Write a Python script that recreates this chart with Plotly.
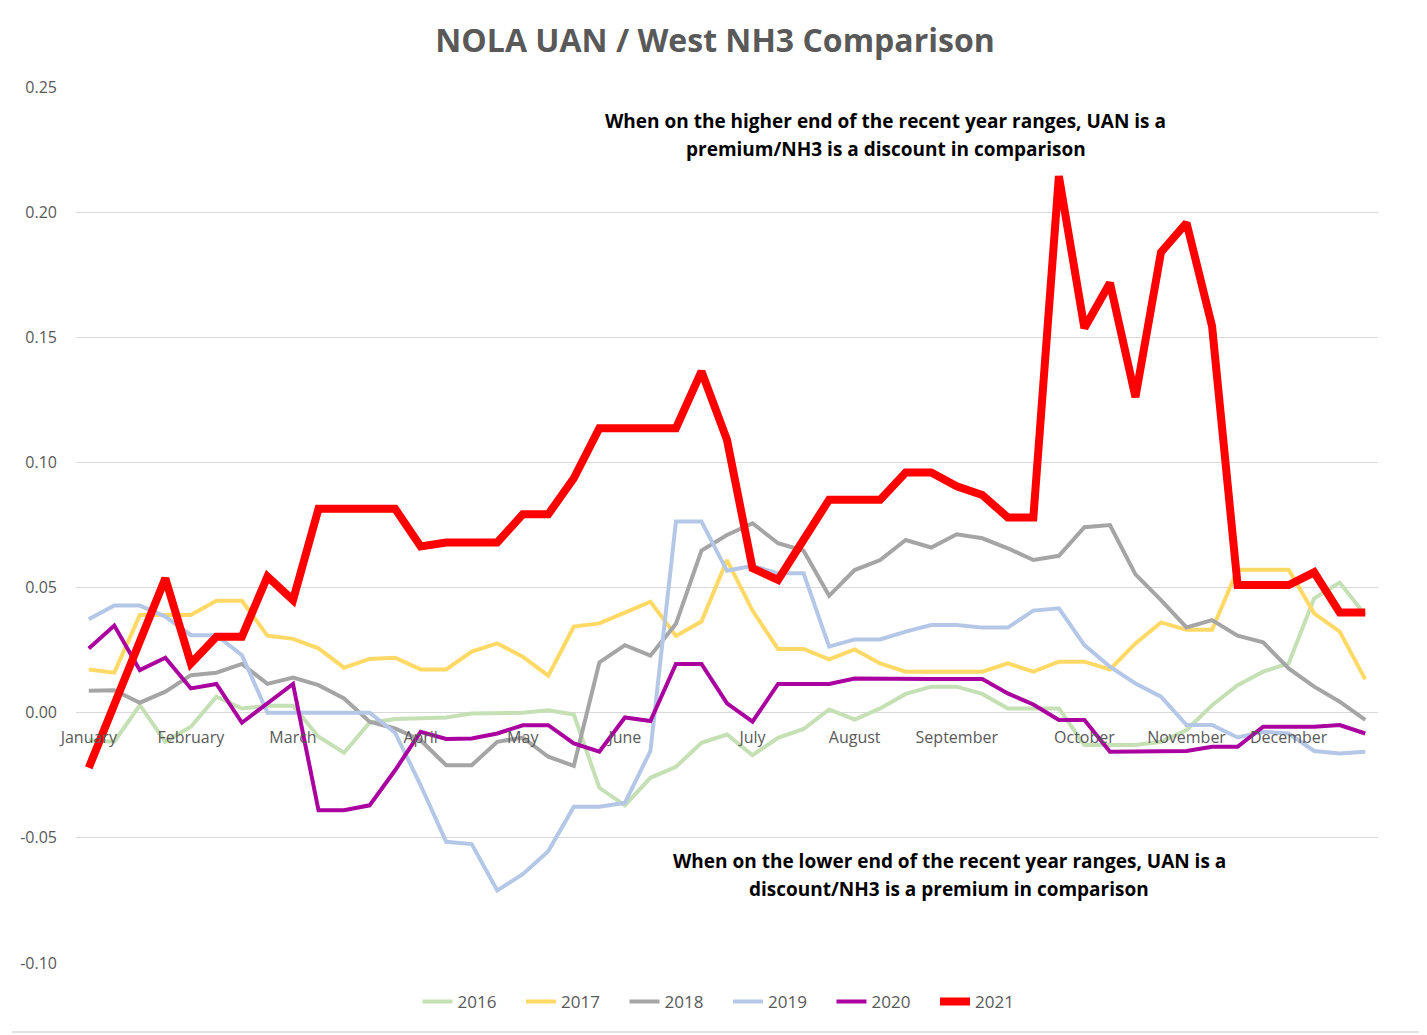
import plotly.graph_objects as go

# ---- data (one value per week, 51 weeks)
weeks = list(range(51))

month_labels = ["January", "February", "March", "April", "May", "June",
                "July", "August", "September", "October", "November", "December"]
month_weeks = [0, 4, 8, 13, 17, 21, 26, 30, 34, 39, 43, 47]

y_ticks = [-0.10, -0.05, 0.00, 0.05, 0.10, 0.15, 0.20, 0.25]
y_tick_labels = ["-0.10", "-0.05", "0.00", "0.05", "0.10", "0.15", "0.20", "0.25"]

y2016 = [-0.011, -0.0116, 0.003, -0.0116, -0.0056, 0.0064, 0.0017, 0.0028, 0.0028, -0.0096,
         -0.016, -0.004, -0.0025, -0.0023, -0.0019, -0.0003, 0.0, 0.0, 0.001, -0.0007,
         -0.030, -0.037, -0.026, -0.0216, -0.012, -0.0087, -0.017, -0.010, -0.0065, 0.0013,
         -0.0027, 0.0017, 0.0075, 0.0104, 0.0104, 0.0075, 0.0017, 0.0017, 0.0017, -0.0129,
         -0.0129, -0.0129, -0.0116, -0.0069, 0.003, 0.011, 0.0164, 0.0197, 0.0457, 0.052,
         0.039]

y2017 = [0.0173, 0.016, 0.039, 0.039, 0.039, 0.0447, 0.0447, 0.0308, 0.0295, 0.0257,
         0.018, 0.0215, 0.022, 0.0173, 0.0173, 0.0244, 0.0277, 0.0224, 0.0148, 0.0344,
         0.0357, 0.040, 0.0444, 0.0307, 0.0364, 0.061, 0.0408, 0.0255, 0.0255, 0.0213,
         0.0253, 0.0197, 0.0164, 0.0164, 0.0164, 0.0164, 0.0197, 0.0164, 0.0204, 0.0204,
         0.0173, 0.0277, 0.0361, 0.0331, 0.0331, 0.0571, 0.0571, 0.0571, 0.0397, 0.0324,
         0.0133]

y2018 = [0.0088, 0.009, 0.004, 0.0084, 0.015, 0.016, 0.0195, 0.0115, 0.014, 0.011,
         0.0057, -0.0036, -0.0063, -0.011, -0.021, -0.021, -0.0116, -0.0099, -0.0176, -0.0212,
         0.0201, 0.027, 0.0228, 0.0355, 0.0648, 0.071, 0.0757, 0.0677, 0.0647, 0.0467,
         0.057, 0.061, 0.069, 0.066, 0.0713, 0.0697, 0.0657, 0.061, 0.0627, 0.0741,
         0.075, 0.0553, 0.045, 0.0341, 0.037, 0.0308, 0.0281, 0.0177, 0.0104, 0.0044,
         -0.0029]

y2019 = [0.0373, 0.0428, 0.0428, 0.0384, 0.031, 0.031, 0.023, 0.0, 0.0, 0.0,
         0.0, 0.0, -0.008, -0.029, -0.0516, -0.0525, -0.071, -0.0645, -0.0553, -0.0376,
         -0.0376, -0.036, -0.0153, 0.0764, 0.0764, 0.0567, 0.0587, 0.0557, 0.0557, 0.0264,
         0.0293, 0.0293, 0.0324, 0.035, 0.035, 0.034, 0.034, 0.0408, 0.0417, 0.027,
         0.0184, 0.0117, 0.0064, -0.0049, -0.0049, -0.0099, -0.0076, -0.0083, -0.0153, -0.0163,
         -0.0156]

y2020 = [0.0257, 0.0348, 0.017, 0.022, 0.0097, 0.0115, -0.004, 0.0037, 0.0115, -0.039,
         -0.039, -0.037, -0.023, -0.0076, -0.0105, -0.0103, -0.0083, -0.005, -0.005, -0.0123,
         -0.0156, -0.0019, -0.0033, 0.0195, 0.0195, 0.0037, -0.0036, 0.0115, 0.0115, 0.0115,
         0.0137, 0.0135, 0.0135, 0.0135, 0.0135, 0.0135, 0.0077, 0.0033, -0.0029, -0.0029,
         -0.0156, -0.0156, -0.0156, -0.0153, -0.0136, -0.0136, -0.0056, -0.0056, -0.0056, -0.0049,
         -0.0083]

y2021 = [-0.022, 0.003, 0.028, 0.0537, 0.0197, 0.0304, 0.0304, 0.0544, 0.045, 0.0815,
         0.0815, 0.0815, 0.0815, 0.0664, 0.068, 0.068, 0.068, 0.0793, 0.0793, 0.0937,
         0.1137, 0.1137, 0.1137, 0.1137, 0.1364, 0.109, 0.0577, 0.0531, 0.0691, 0.0851,
         0.0851, 0.0851, 0.096, 0.096, 0.0905, 0.087, 0.078, 0.078, 0.2144, 0.1537,
         0.1717, 0.1261, 0.184, 0.1957, 0.1544, 0.051, 0.051, 0.051, 0.0561, 0.040,
         0.040]

high_note = ["When on the higher end of the recent year ranges, UAN is a",
             "premium/NH3 is a discount in comparison"]
low_note = ["When on the lower end of the recent year ranges, UAN is a",
            "discount/NH3 is a premium in comparison"]

# ---- page geometry (screen pixels); the page body adds an 8px offset
W, H = 1427, 1035
OFF = 8
PLOT_L, PLOT_R, PLOT_T, PLOT_B = 72, 1378, 87, 963
plot_w = PLOT_R - PLOT_L
plot_h = PLOT_B - PLOT_T

def px_x(x):
    return (x - PLOT_L) / plot_w

def px_y(y):
    return (PLOT_B - y) / plot_h

FONT = "Open Sans"
GREY_TXT = "#595959"
GRID = "#D9D9D9"

# ---- create figure
fig = go.Figure()

series = [
    ("2016", y2016, "#C5E0B4", 4),
    ("2017", y2017, "#FFD966", 4),
    ("2018", y2018, "#A5A5A5", 4),
    ("2019", y2019, "#B4C7E7", 4),
    ("2020", y2020, "#A9009F", 4),
    ("2021", y2021, "#FF0000", 8),
]
for name, vals, colour, width in series:
    fig.add_trace(go.Scatter(x=weeks, y=vals, mode="lines", name=name,
                             line=dict(color=colour, width=width)))

# ---- notes on the chart
for i, line in enumerate(high_note):
    fig.add_annotation(x=px_x(884), y=px_y(121 + 28 * i), xref="paper", yref="paper",
                       text=line, showarrow=False, xanchor="center", yanchor="middle",
                       font=dict(family=FONT, size=19, color="black", weight="bold"))
for i, line in enumerate(low_note):
    fig.add_annotation(x=px_x(948), y=px_y(861 + 28 * i), xref="paper", yref="paper",
                       text=line, showarrow=False, xanchor="center", yanchor="middle",
                       font=dict(family=FONT, size=19, color="black", weight="bold"))

# ---- chart area border (right and bottom edges fall inside the page)
fig.add_shape(type="line", xref="paper", yref="paper",
              x0=px_x(1425), x1=px_x(1425), y0=px_y(1032), y1=px_y(OFF),
              line=dict(color=GRID, width=1.3))
fig.add_shape(type="line", xref="paper", yref="paper",
              x0=px_x(OFF), x1=px_x(1425), y0=px_y(1032), y1=px_y(1032),
              line=dict(color=GRID, width=1.3))

# ---- update plot layout
zero_pos = (0 - y_ticks[0]) / (y_ticks[-1] - y_ticks[0])

fig.update_layout(
    width=W - OFF,
    height=H - OFF,
    paper_bgcolor="white",
    plot_bgcolor="white",
    font=dict(family=FONT, size=16, color=GREY_TXT),
    title=dict(text="NOLA UAN / West NH3 Comparison", x=px_x(713), xanchor="center",
               xref="paper", y=1 - (41 - OFF) / (H - OFF), yanchor="middle", yref="container",
               font=dict(family=FONT, size=32, color=GREY_TXT, weight="bold")),
    margin=dict(l=PLOT_L - OFF, r=W - PLOT_R, t=PLOT_T - OFF, b=H - PLOT_B),
    showlegend=True,
    legend=dict(orientation="h", x=px_x(726), xanchor="center", y=px_y(1002),
                yanchor="middle", font=dict(size=17, color=GREY_TXT),
                entrywidth=58.5, entrywidthmode="pixels", traceorder="normal"),
    xaxis=dict(
        range=[-0.5, 50.5],
        tickvals=month_weeks,
        ticktext=month_labels,
        anchor="free",
        position=zero_pos,
        showgrid=False,
        zeroline=False,
        showline=False,
        ticks="",
        ticklabelstandoff=13,
    ),
    yaxis=dict(
        range=[y_ticks[0], y_ticks[-1]],
        tickvals=y_ticks,
        ticktext=y_tick_labels,
        showgrid=True,
        gridcolor=GRID,
        gridwidth=1.3,
        zeroline=False,
        showline=False,
        ticks="",
        ticklabelstandoff=18,
    ),
)

fig.write_html("out.html")
